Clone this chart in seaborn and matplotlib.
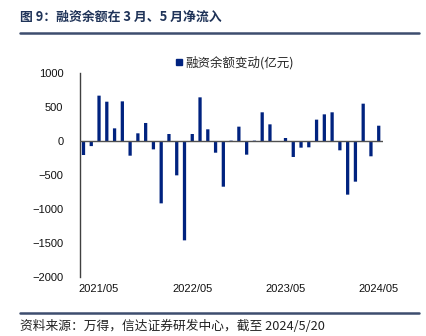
import matplotlib
matplotlib.use("Agg")
import matplotlib.pyplot as plt
import seaborn as sns
import pandas as pd
from matplotlib.lines import Line2D

months = ["2021/03", "2021/04", "2021/05", "2021/06", "2021/07", "2021/08", "2021/09", "2021/10",
          "2021/11", "2021/12", "2022/01", "2022/02", "2022/03", "2022/04", "2022/05", "2022/06",
          "2022/07", "2022/08", "2022/09", "2022/10", "2022/11", "2022/12", "2023/01", "2023/02",
          "2023/03", "2023/04", "2023/05", "2023/06", "2023/07", "2023/08", "2023/09", "2023/10",
          "2023/11", "2023/12", "2024/01", "2024/02", "2024/03", "2024/04", "2024/05"]
values = [-206, -75, 667, 578, 186, 583, -216, 113,
          265, -123, -917, 103, -505, -1461, 103, 642,
          172, -172, -672, 5, 211, -201, 5, 422,
          245, -10, 44, -235, -98, -93, 314, 392,
          422, -137, -789, -598, 549, -225, 225]
tick_labels = ["2021/05", "2022/05", "2023/05", "2024/05"]
series_name = "融资余额变动(亿元)"
title = "图 9：融资余额在 3 月、5 月净流入"
source = "资料来源：万得，信达证券研发中心，截至 2024/5/20"

sns.set_theme(style="white")
plt.rcParams["font.family"] = ["Noto Sans CJK SC", "DejaVu Sans"]

bar_color = "#00227f"
df = pd.DataFrame({"month": months, "value": values})

fig = plt.figure(figsize=(4.27, 3.36), dpi=100)
ax = fig.add_axes([80 / 427, 1 - 277 / 336, (383 - 80) / 427, (277 - 73) / 336])

sns.barplot(data=df, x="month", y="value", color=bar_color, width=0.42,
            saturation=1, ax=ax, zorder=2)
for p in ax.patches:
    p.set_snap(False)
    p.set_linewidth(0)
ax.axhline(0, color="#505050", lw=1.0, zorder=3)

ax.set_xlim(-0.45, len(months) - 0.45)
ax.set_ylim(-2000, 1000)
ax.set_yticks([1000, 500, 0, -500, -1000, -1500, -2000])
ax.set_xticks([months.index(t) for t in tick_labels])
ax.set_xticklabels(tick_labels)
ax.set_xlabel("")
ax.set_ylabel("")

for s in ["top", "right", "bottom"]:
    ax.spines[s].set_visible(False)
ax.spines["left"].set_color("#404040")
ax.spines["left"].set_linewidth(1.0)
ax.tick_params(axis="y", direction="in", length=2.5, width=1, color="#404040",
               labelsize=8, pad=12, labelcolor="#111111")
ax.tick_params(axis="x", length=0, labelsize=8, pad=5, labelcolor="#111111")
for lab in ax.get_xticklabels() + ax.get_yticklabels():
    lab.set_family(["Liberation Sans", "DejaVu Sans"])

handle = Line2D([], [], marker="s", color=bar_color, linestyle="none", markersize=4)
ax.legend([handle], [series_name], loc="center left", bbox_to_anchor=(175 / 427, 1 - 63 / 336),
          bbox_transform=fig.transFigure, frameon=False, fontsize=9,
          handlelength=0.6, handletextpad=0.2, borderaxespad=0, borderpad=0)

fig.text(20 / 427, 1 - 17 / 336, title, fontsize=9.3, fontweight="bold",
         color="#1f3358", va="center", ha="left")
fig.add_artist(Line2D([20 / 427, 419 / 427], [1 - 33 / 336, 1 - 33 / 336],
                      color="#3d4d6e", lw=1.8, transform=fig.transFigure))
fig.add_artist(Line2D([20 / 427, 419 / 427], [1 - 313 / 336, 1 - 313 / 336],
                      color="#3d4d6e", lw=1.8, transform=fig.transFigure))
fig.text(20 / 427, 1 - 326 / 336, source, fontsize=9.2, style="italic",
         color="#222222", va="center", ha="left")

fig.savefig("out.png", dpi=100)
